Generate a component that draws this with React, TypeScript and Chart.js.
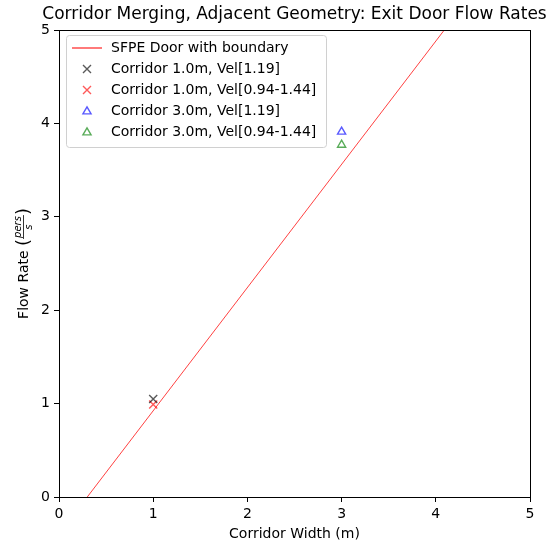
import React, { useEffect, useRef } from "react";
import { Chart, registerables } from "chart.js";

Chart.register(...registerables);

const TITLE = "Corridor Merging, Adjacent Geometry: Exit Door Flow Rates";
const X_LABEL = "Corridor Width (m)";
const Y_LABEL_TEXT = "Flow Rate ";
const Y_LABEL_NUM = "pers";
const Y_LABEL_DEN = "s";

const sfpeX = [0.3, 5.0];
const sfpeY = [0.0, 6.2];

const c1AX = [1.0];
const c1AY = [1.05];
const c1BX = [1.0];
const c1BY = [0.99];
const c3AX = [3.0];
const c3AY = [3.91];
const c3BX = [3.0];
const c3BY = [3.77];

const seriesLabels = [
  "SFPE Door with boundary",
  "Corridor 1.0m, Vel[1.19]",
  "Corridor 1.0m, Vel[0.94-1.44]",
  "Corridor 3.0m, Vel[1.19]",
  "Corridor 3.0m, Vel[0.94-1.44]",
];

const xTicks = [0, 1, 2, 3, 4, 5];
const yTicks = [0, 1, 2, 3, 4, 5];

const FONT = "'DejaVu Sans', sans-serif";
const COLORS = [
  "rgba(255,0,0,0.75)",
  "rgba(0,0,0,0.65)",
  "rgba(255,0,0,0.65)",
  "rgba(0,0,255,0.65)",
  "rgba(0,128,0,0.65)",
];

const zip = (xs: number[], ys: number[]) => xs.map((x, i) => ({ x, y: ys[i] }));

function drawMarker(ctx: CanvasRenderingContext2D, style: string, x: number, y: number, color: string) {
  ctx.save();
  ctx.strokeStyle = color;
  ctx.lineWidth = 1.4;
  ctx.beginPath();
  if (style === "x") {
    const d = 4;
    ctx.moveTo(x - d, y - d);
    ctx.lineTo(x + d, y + d);
    ctx.moveTo(x + d, y - d);
    ctx.lineTo(x - d, y + d);
  } else if (style === "tri") {
    const r = 4.7;
    for (let k = 0; k < 3; k++) {
      const a = -Math.PI / 2 + (k * 2 * Math.PI) / 3;
      const px = x + Math.cos(a) * r;
      const py = y + Math.sin(a) * r + 0.5;
      if (k === 0) ctx.moveTo(px, py);
      else ctx.lineTo(px, py);
    }
    ctx.closePath();
  } else {
    ctx.moveTo(x - 15, y);
    ctx.lineTo(x + 15, y);
  }
  ctx.stroke();
  ctx.restore();
}

const decorPlugin = {
  id: "decor",
  afterDraw(chart: any) {
    const ctx: CanvasRenderingContext2D = chart.ctx;
    const a = chart.chartArea;
    ctx.save();
    // frame
    ctx.strokeStyle = "#000";
    ctx.lineWidth = 1;
    ctx.strokeRect(Math.round(a.left) + 0.5, Math.round(a.top) + 0.5, Math.round(a.right - a.left), Math.round(a.bottom - a.top));

    // title
    ctx.fillStyle = "#000";
    ctx.font = `17px ${FONT}`;
    ctx.textAlign = "center";
    ctx.textBaseline = "alphabetic";
    ctx.fillText(TITLE, (a.left + a.right) / 2, 19);

    // x label
    ctx.font = `14px ${FONT}`;
    ctx.fillText(X_LABEL, (a.left + a.right) / 2, 538);

    // y label with fraction
    ctx.save();
    ctx.translate(28, (a.top + a.bottom) / 2);
    ctx.rotate(-Math.PI / 2);
    ctx.font = `14px ${FONT}`;
    const w1 = ctx.measureText(Y_LABEL_TEXT).width;
    ctx.font = `18px ${FONT}`;
    const wp = ctx.measureText("(").width;
    ctx.font = `italic 10px ${FONT}`;
    const wn = ctx.measureText(Y_LABEL_NUM).width;
    const wd = ctx.measureText(Y_LABEL_DEN).width;
    const wf = Math.max(wn, wd) + 2;
    const total = w1 + wp + wf + wp;
    let cx = -total / 2;
    ctx.textAlign = "left";
    ctx.font = `14px ${FONT}`;
    ctx.fillText(Y_LABEL_TEXT, cx, 0);
    cx += w1;
    ctx.font = `18px ${FONT}`;
    ctx.fillText("(", cx, 1);
    cx += wp;
    const barY = -4.5;
    ctx.font = `italic 10px ${FONT}`;
    ctx.fillText(Y_LABEL_NUM, cx + (wf - wn) / 2, barY - 3);
    ctx.fillText(Y_LABEL_DEN, cx + (wf - wd) / 2, barY + 8);
    ctx.fillRect(cx, barY - 0.4, wf, 0.8);
    cx += wf;
    ctx.font = `18px ${FONT}`;
    ctx.fillText(")", cx, 1);
    ctx.restore();

    // legend
    const lx = a.left + 7;
    const ly = a.top + 5;
    const lw = 260;
    const lh = 112;
    ctx.beginPath();
    (ctx as any).roundRect(lx + 0.5, ly + 0.5, lw, lh, 3);
    ctx.fillStyle = "rgba(255,255,255,0.8)";
    ctx.fill();
    ctx.strokeStyle = "#d0d0d0";
    ctx.lineWidth = 1;
    ctx.stroke();
    const styles = ["line", "x", "x", "tri", "tri"];
    ctx.font = `14px ${FONT}`;
    ctx.textAlign = "left";
    ctx.textBaseline = "middle";
    for (let i = 0; i < seriesLabels.length; i++) {
      const ry = ly + 13 + i * 21;
      drawMarker(ctx, styles[i], lx + 21, ry, COLORS[i]);
      ctx.fillStyle = "#000";
      ctx.fillText(seriesLabels[i], lx + 45, ry);
    }
    ctx.restore();
  },
};

export default function App() {
  const ref = useRef<HTMLCanvasElement | null>(null);
  useEffect(() => {
    if (!ref.current) return;
    const tickOpts = (vals: number[]) => ({
      color: "#000",
      font: { family: FONT, size: 14 },
      padding: 4,
      autoSkip: false,
      stepSize: 1,
      callback: (v: any) => (vals.includes(Number(v)) ? String(v) : ""),
    });
    const chart = new Chart(ref.current, {
      type: "scatter",
      data: {
        datasets: [
          {
            type: "line",
            label: seriesLabels[0],
            data: zip(sfpeX, sfpeY),
            borderColor: COLORS[0],
            borderWidth: 1,
            pointRadius: 0,
            fill: false,
          },
          {
            label: seriesLabels[1],
            data: zip(c1AX, c1AY),
            pointStyle: "crossRot",
            radius: 5.7,
            borderColor: COLORS[1],
            borderWidth: 1.4,
          },
          {
            label: seriesLabels[2],
            data: zip(c1BX, c1BY),
            pointStyle: "crossRot",
            radius: 5.7,
            borderColor: COLORS[2],
            borderWidth: 1.4,
          },
          {
            label: seriesLabels[3],
            data: zip(c3AX, c3AY),
            pointStyle: "triangle",
            radius: 4.7,
            borderColor: COLORS[3],
            backgroundColor: "rgba(0,0,0,0)",
            borderWidth: 1.4,
          },
          {
            label: seriesLabels[4],
            data: zip(c3BX, c3BY),
            pointStyle: "triangle",
            radius: 4.7,
            borderColor: COLORS[4],
            backgroundColor: "rgba(0,0,0,0)",
            borderWidth: 1.4,
          },
        ] as any,
      },
      options: {
        animation: false,
        responsive: false,
        devicePixelRatio: 1,
        layout: { padding: { left: 0, top: 30, right: 22, bottom: 0 } },
        plugins: {
          legend: { display: false },
          title: { display: false },
          tooltip: { enabled: false },
        },
        scales: {
          x: {
            type: "linear",
            min: 0,
            max: 5,
            ticks: tickOpts(xTicks) as any,
            grid: { display: true, drawOnChartArea: false, drawTicks: true, tickLength: 5, tickColor: "#000", tickWidth: 1 },
            border: { display: false },
            afterFit: (s: any) => {
              s.height = 51;
            },
          },
          y: {
            type: "linear",
            min: 0,
            max: 5,
            ticks: tickOpts(yTicks) as any,
            grid: { display: true, drawOnChartArea: false, drawTicks: true, tickLength: 5, tickColor: "#000", tickWidth: 1 },
            border: { display: false },
            afterFit: (s: any) => {
              s.width = 59;
            },
          },
        },
      },
      plugins: [decorPlugin],
    });
    return () => chart.destroy();
  }, []);
  return (
    <div style={{ position: "absolute", left: 0, top: 0, width: 552, height: 548, background: "#fff" }}>
      <canvas ref={ref} width={552} height={548} style={{ width: 552, height: 548, display: "block" }} />
    </div>
  );
}
